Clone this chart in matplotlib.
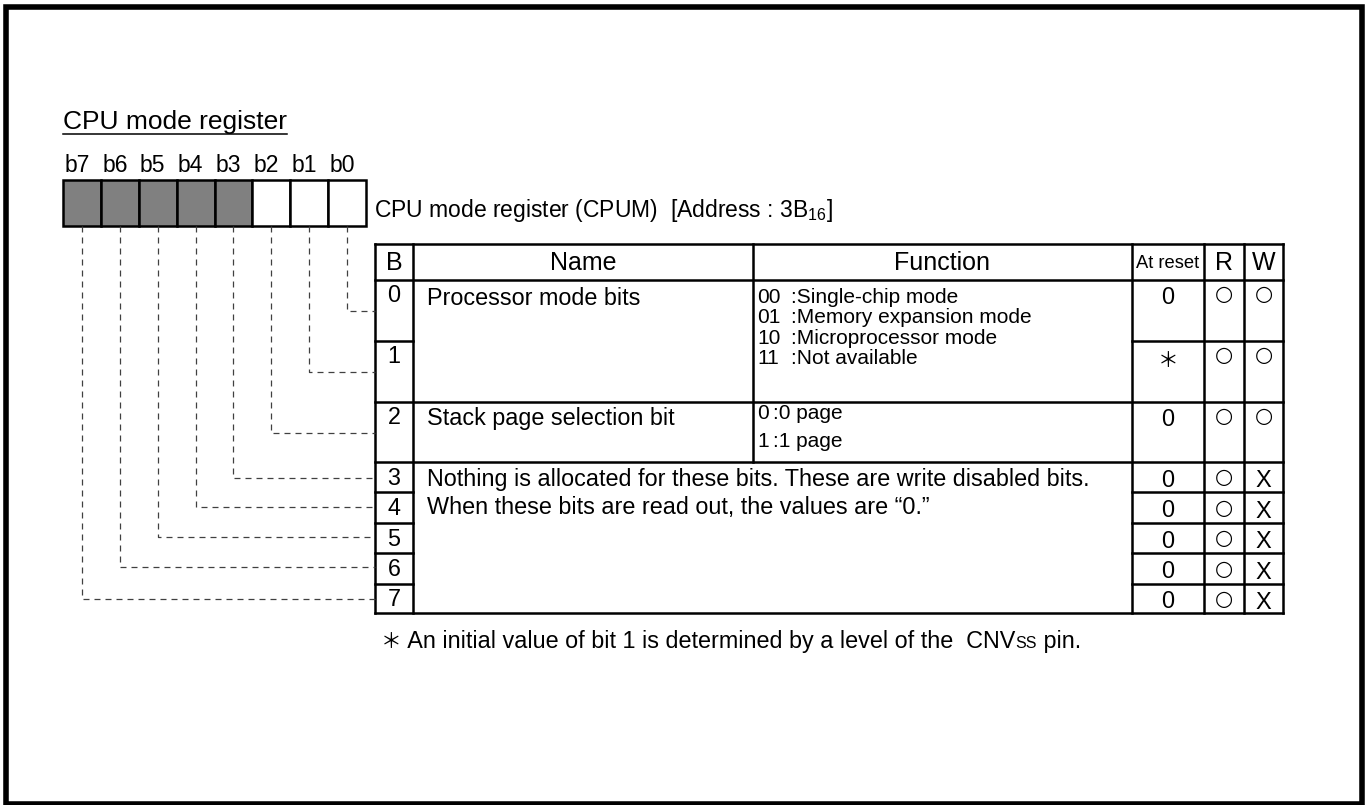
import matplotlib
matplotlib.use("Agg")
import matplotlib.pyplot as plt
from matplotlib.patches import Rectangle

plt.rcParams['font.family'] = ['Liberation Sans', 'DejaVu Sans', 'Noto Sans CJK JP']
plt.rcParams['mathtext.fontset'] = 'custom'
plt.rcParams['mathtext.rm'] = 'Liberation Sans'

# register data
title = "CPU mode register"
reg_caption = "CPU mode register (CPUM)  [Address : 3B$_{\\mathregular{16}}$]"
bit_labels = ['b7', 'b6', 'b5', 'b4', 'b3', 'b2', 'b1', 'b0']
unused = [True, True, True, True, True, False, False, False]   # b7..b3 shaded

headers = ['B', 'Name', 'Function', 'At reset', 'R', 'W']
row_bits = ['0', '1', '2', '3', '4', '5', '6', '7']
name_mode = "Processor mode bits"
name_stack = "Stack page selection bit"
mode_codes = ['00', '01', '10', '11']
mode_desc = ['Single-chip mode', 'Memory expansion mode', 'Microprocessor mode', 'Not available']
stack_codes = ['0', '1']
stack_desc = ['0 page', '1 page']
note_lines = ["Nothing is allocated for these bits. These are write disabled bits.",
              "When these bits are read out, the values are \u201c0.\u201d"]
reset_vals = ['0', '\uff0a', '0', '0', '0', '0', '0', '0']
r_vals = ['\u25cb'] * 8
w_vals = ['\u25cb', '\u25cb', '\u25cb', 'X', 'X', 'X', 'X', 'X']
footnote = ["\uff0a", " An initial value of bit 1 is determined by a level of the  CNV", "SS", " pin."]

# layout (pixels)
W, H = 1369, 805
fig = plt.figure(figsize=(W / 100, H / 100), dpi=100)
ax = fig.add_axes([0, 0, 1, 1])
ax.set_xlim(0, W)
ax.set_ylim(H, 0)
ax.axis('off')

LW = 1.8
FS = 16.8

# outer frame
ax.add_patch(Rectangle((5.5, 7), 1356.5, 797, fill=False, lw=4, ec='black'))

# title
t = ax.text(63, 122, title, fontsize=19, va='center', ha='left')
fig.canvas.draw()
bb = t.get_window_extent()
ax.plot([63, 63 + bb.width], [134, 134], color='black', lw=1.1)

# register boxes
box_x0, box_w, box_y0, box_y1 = 63, 37.875, 180, 226
centers = []
for i, lab in enumerate(bit_labels):
    x = box_x0 + i * box_w
    ax.add_patch(Rectangle((x, box_y0), box_w, box_y1 - box_y0,
                           fc='#808080' if unused[i] else 'white', ec='black', lw=LW))
    centers.append(x + box_w / 2)
    ax.text(x + box_w / 2 - 5, 166, lab, fontsize=16.5, ha='center', va='center')

ax.text(374, 210, reg_caption, fontsize=16.5, ha='left', va='center')

# table geometry
cols = [375, 413, 753, 1132, 1204, 1244, 1283]
top, hdr = 244, 280
rows = [280, 341, 402, 462, 492, 523, 553, 584, 613]
lead_y = [311, 372, 433, 478, 507, 537, 567, 599]

def hline(y, x0, x1):
    ax.plot([x0, x1], [y, y], color='black', lw=LW, solid_capstyle='projecting')

def vline(x, y0, y1):
    ax.plot([x, x], [y0, y1], color='black', lw=LW, solid_capstyle='projecting')

hline(top, cols[0], cols[-1])
hline(hdr, cols[0], cols[-1])
hline(rows[-1], cols[0], cols[-1])
for c in [cols[0], cols[1], cols[3], cols[4], cols[5], cols[6]]:
    vline(c, top, rows[-1])
vline(cols[2], top, rows[3])
for i in range(1, 8):
    y = rows[i]
    if i in (2, 3):
        hline(y, cols[0], cols[-1])
    else:
        hline(y, cols[0], cols[1])
        hline(y, cols[3], cols[-1])

# header
for i, h in enumerate(headers):
    cx = (cols[i] + cols[i + 1]) / 2
    fs = 13.2 if h == 'At reset' else 18
    ax.text(cx, 263, h, fontsize=fs, ha='center', va='center')

# rows 0-2 text sits near the top of the row, rows 3-7 are centred
def row_y(i, off):
    if i < 3:
        return rows[i] + off
    return (rows[i] + rows[i + 1]) / 2 + off - 14

bcx = (cols[0] + cols[1]) / 2
rcx = (cols[3] + cols[4]) / 2
rrx = (cols[4] + cols[5]) / 2
wwx = (cols[5] + cols[6]) / 2
for i in range(8):
    ax.text(bcx, row_y(i, 15), row_bits[i], fontsize=FS, ha='center', va='center')
    if reset_vals[i] == '0':
        ax.text(rcx, row_y(i, 17), reset_vals[i], fontsize=FS, ha='center', va='center')
    else:
        ax.text(rcx, row_y(i, 20), reset_vals[i], fontsize=15, ha='center', va='center')
    ax.text(rrx, row_y(i, 14), r_vals[i], fontsize=15, ha='center', va='center',
            family='DejaVu Sans')
    if w_vals[i] == 'X':
        ax.text(wwx, row_y(i, 18), w_vals[i], fontsize=17, ha='center', va='center')
    else:
        ax.text(wwx, row_y(i, 14), w_vals[i], fontsize=15, ha='center', va='center',
                family='DejaVu Sans')

ax.text(427, 298, name_mode, fontsize=FS, ha='left', va='center')
for k in range(4):
    y = 297 + k * 20.5
    ax.text(757, y, mode_codes[k], fontsize=15, ha='left', va='center')
    ax.text(791, y, ':' + mode_desc[k], fontsize=15, ha='left', va='center')

ax.text(427, 418, name_stack, fontsize=FS, ha='left', va='center')
for k in range(2):
    y = 413 + k * 28.5
    ax.text(757, y, stack_codes[k], fontsize=15, ha='left', va='center')
    ax.text(773, y, ':' + stack_desc[k], fontsize=15, ha='left', va='center')

for k, line in enumerate(note_lines):
    ax.text(427, 479 + k * 28, line, fontsize=FS, ha='left', va='center')

# dashed leader lines from register bits to table rows
for bit in range(8):
    x = centers[7 - bit]
    y = lead_y[bit]
    ax.plot([x, x, cols[0]], [box_y1, y, y], color='#404040', lw=0.9,
            dashes=(4.8, 4))

# footnote with small "SS"
x = 381
base = 648
sizes = [15, FS, 11.5, FS]
for piece, fs in zip(footnote, sizes):
    tt = ax.text(x, base, piece, fontsize=fs, ha='left', va='baseline')
    fig.canvas.draw()
    x += tt.get_window_extent().width

fig.savefig("out.png", dpi=100)
